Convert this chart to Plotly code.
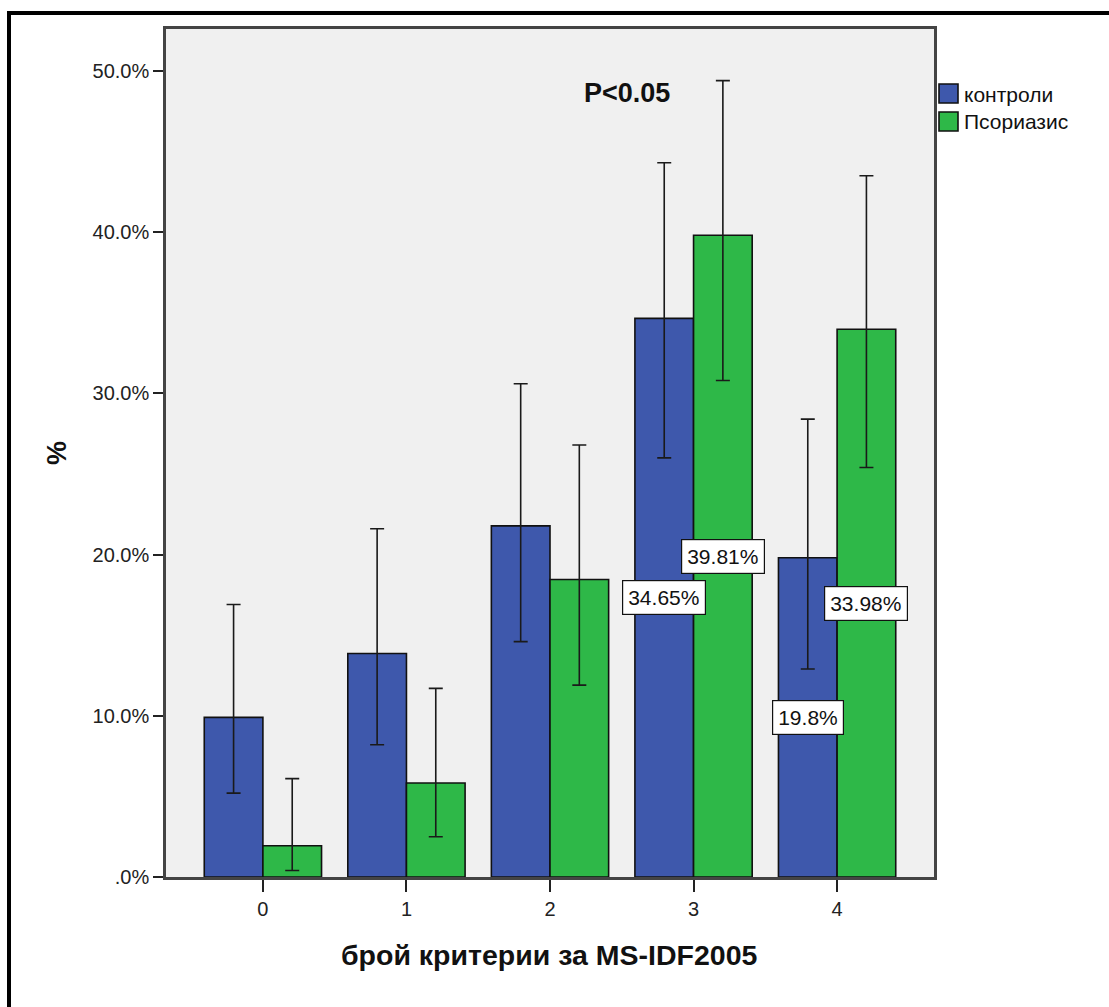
import plotly.graph_objects as go

# Number of MS-IDF2005 criteria met
categories = [0, 1, 2, 3, 4]
tick_labels = ["0", "1", "2", "3", "4"]

# Percent of each group (with 95% confidence limits)
control_name = "контроли"
control_pct = [9.90, 13.86, 21.78, 34.65, 19.80]
control_hi = [16.9, 21.6, 30.6, 44.3, 28.4]
control_lo = [5.2, 8.2, 14.6, 26.0, 12.9]

psor_name = "Псориазис"
psor_pct = [1.94, 5.83, 18.45, 39.81, 33.98]
psor_hi = [6.1, 11.7, 26.8, 49.4, 43.5]
psor_lo = [0.4, 2.5, 11.9, 30.8, 25.4]

# Categories whose bars carry a value label
labelled = [3, 4]

y_ticks = [0, 10, 20, 30, 40, 50]
y_tick_text = [".0%", "10.0%", "20.0%", "30.0%", "40.0%", "50.0%"]

BLUE = "#3E58AC"
GREEN = "#2EB848"
FONT = "Liberation Sans, Arial, sans-serif"

W, H = 1109, 1007
L, R, T, B = 166, 934, 29, 877  # plot box in pixels
PW, PH = R - L, B - T


def px_x(px):
    return (px - L) / PW


def px_y(py):
    return (B - py) / PH


BARGAP = 0.183
half = (1 - BARGAP) / 4  # offset of each bar's centre from its category


def err(vals, hi, lo):
    return dict(
        type="data",
        symmetric=False,
        array=[h - v for v, h in zip(vals, hi)],
        arrayminus=[v - l for v, l in zip(vals, lo)],
        color="#1a1a1a",
        thickness=1.6,
        width=7,
    )


fig = go.Figure()
fig.add_trace(go.Bar(
    x=categories, y=control_pct, name=control_name,
    marker=dict(color=BLUE, line=dict(color="#111", width=1.6)),
    error_y=err(control_pct, control_hi, control_lo),
    showlegend=False,
))
fig.add_trace(go.Bar(
    x=categories, y=psor_pct, name=psor_name,
    marker=dict(color=GREEN, line=dict(color="#111", width=1.6)),
    error_y=err(psor_pct, psor_hi, psor_lo),
    showlegend=False,
))

annotations = []
shapes = []

# value labels in the middle of the labelled bars
for c in labelled:
    i = categories.index(c)
    for val, off in ((control_pct[i], -half), (psor_pct[i], half)):
        annotations.append(dict(
            x=c + off, y=val / 2, xref="x", yref="y",
            text=f"{val:g}%", showarrow=False,
            font=dict(family=FONT, size=21, color="#111"),
            bgcolor="white", bordercolor="#111", borderwidth=1.2, borderpad=5,
            xanchor="center", yanchor="middle",
        ))

# significance note
annotations.append(dict(
    x=px_x(627), y=px_y(93), xref="paper", yref="paper",
    text="<b>P<0.05</b>", showarrow=False,
    font=dict(family=FONT, size=27, color="#111"),
    xanchor="center", yanchor="middle",
))

# axis titles
annotations.append(dict(
    x=px_x(57), y=px_y(453), xref="paper", yref="paper",
    text="<b>%</b>", showarrow=False, textangle=-90,
    font=dict(family=FONT, size=27, color="#111"),
    xanchor="center", yanchor="middle",
))
annotations.append(dict(
    x=px_x(549), y=px_y(955), xref="paper", yref="paper",
    text="<b>брой критерии за MS-IDF2005</b>", showarrow=False,
    font=dict(family=FONT, size=28.5, color="#111"),
    xanchor="center", yanchor="middle",
))

# legend
for k, (name, color) in enumerate(((control_name, BLUE), (psor_name, GREEN))):
    top = 84 + k * 28
    shapes.append(dict(
        type="rect", xref="paper", yref="paper",
        x0=px_x(939), x1=px_x(958), y0=px_y(top), y1=px_y(top + 19),
        fillcolor=color, line=dict(color="#111", width=1.6), layer="above",
    ))
    annotations.append(dict(
        x=px_x(962), y=px_y(top + 10), xref="paper", yref="paper",
        text=name, showarrow=False,
        font=dict(family=FONT, size=21, color="#111"),
        xanchor="left", yanchor="middle",
    ))

# outer frame (top and left edges)
shapes.append(dict(
    type="rect", xref="paper", yref="paper",
    x0=px_x(7), x1=px_x(W + 10), y0=px_y(11), y1=px_y(15),
    fillcolor="black", line=dict(width=0), layer="above",
))
shapes.append(dict(
    type="rect", xref="paper", yref="paper",
    x0=px_x(7), x1=px_x(11), y0=px_y(11), y1=px_y(H + 10),
    fillcolor="black", line=dict(width=0), layer="above",
))

fig.update_layout(
    width=W, height=H,
    margin=dict(l=L, r=W - R, t=T, b=H - B, pad=0),
    paper_bgcolor="white",
    plot_bgcolor="#F0F0F0",
    barmode="group",
    bargap=BARGAP,
    bargroupgap=0,
    showlegend=False,
    font=dict(family=FONT, size=20, color="#222"),
    annotations=annotations,
    shapes=shapes,
    xaxis=dict(
        range=[-0.675, 4.675],
        tickmode="array", tickvals=categories, ticktext=tick_labels,
        ticks="outside", ticklen=12, tickwidth=1.6, tickcolor="#222",
        showline=True, linecolor="#444", linewidth=2.5, mirror=True,
        showgrid=False, zeroline=False,
        tickfont=dict(family=FONT, size=20, color="#222"),
        fixedrange=True,
    ),
    yaxis=dict(
        range=[0, 52.6],
        tickmode="array", tickvals=y_ticks, ticktext=y_tick_text,
        ticks="outside", ticklen=10, tickwidth=1.6, tickcolor="#222",
        showline=True, linecolor="#444", linewidth=2.5, mirror=True,
        showgrid=False, zeroline=False,
        tickfont=dict(family=FONT, size=20, color="#222"),
        fixedrange=True,
    ),
)

fig.write_html("out.html")
